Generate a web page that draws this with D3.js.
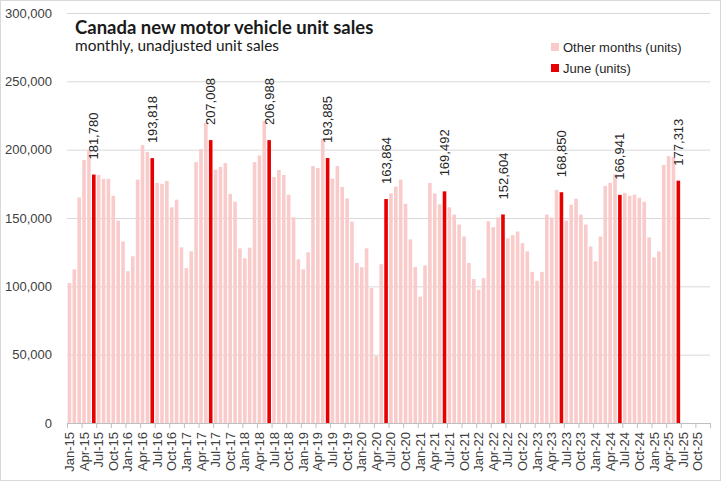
<!DOCTYPE html>
<html>
<head>
<meta charset="utf-8">
<script src="https://cdn.jsdelivr.net/npm/d3@7"></script>
<style>
  body { margin: 0; background: #fff; }
  svg { display: block; font-family: "Liberation Sans", Arial, sans-serif; }
  .tick text { fill: #404040; }
</style>
</head>
<body>
<svg width="721" height="481"></svg>
<script>
// months on the axis run Jan-15 .. Dec-25, data stops at Jun-25
const monthNames = ['Jan', 'Feb', 'Mar', 'Apr', 'May', 'Jun', 'Jul', 'Aug', 'Sep', 'Oct', 'Nov', 'Dec'];
const years = ['15', '16', '17', '18', '19', '20', '21', '22', '23', '24', '25'];

// unit sales (June values are the labelled ones)
const sales = [
  102400, 112500, 165000, 192400, 199500, 181780, 181500, 178600, 178600, 166300, 148100, 132900,
  111100, 122000, 178100, 203300, 198400, 193818, 175700, 175000, 177100, 157800, 163400, 128500,
  113300, 125600, 190900, 200400, 219700, 207008, 185400, 187300, 190200, 167700, 161900, 127800,
  120500, 128300, 190900, 195800, 221000, 206988, 180000, 185100, 181500, 167000, 150500, 119800,
  112500, 124900, 188000, 186600, 207900, 193885, 178800, 188000, 172800, 164300, 147400, 117100,
  114000, 127800, 98700, 48900, 116200, 163864, 168000, 173000, 178100, 160400, 134300, 114200,
  92400, 115400, 175700, 168000, 160000, 169492, 157800, 152500, 145200, 136500, 117100, 105300,
  97500, 106000, 147600, 143300, 150500, 152604, 135000, 137500, 140100, 131600, 125600, 110600,
  104100, 110600, 152500, 150300, 170600, 168850, 148100, 159700, 164100, 152500, 145200, 129200,
  118300, 136500, 173500, 175700, 182000, 166941, 168400, 166300, 167000, 164800, 161900, 135800,
  121200, 125600, 188800, 195300, 194600, 177313
];

const yTicks = [0, 50000, 100000, 150000, 200000, 250000, 300000];
const legendItems = ['Other months (units)', 'June (units)'];

const colorOther = '#f9cbcb';
const colorJune = '#e60000';

// build category list
const months = [];
years.forEach(y => monthNames.forEach(m => months.push(m + '-' + y)));

const data = sales.map((v, i) => ({ month: months[i], value: v, june: months[i].startsWith('Jun') }));

const svg = d3.select('svg');

// chart border
svg.append('rect')
  .attr('x', 0.5).attr('y', 0.5)
  .attr('width', 720).attr('height', 480)
  .attr('fill', '#fff')
  .attr('stroke', '#d9d9d9');

const plotL = 67, plotR = 710, plotT = 13, plotB = 423;

const x = d3.scaleBand()
  .domain(months)
  .range([plotL, plotR])
  .paddingInner(0.26)
  .paddingOuter(0.13);

const xEdges = d3.scaleLinear()
  .domain([0, months.length])
  .range([plotL, plotR]);

const y = d3.scaleLinear()
  .domain([0, 300000])
  .range([plotB, plotT]);

// gridlines + y labels
const axisY = d3.axisLeft(y)
  .tickValues(yTicks)
  .tickSize(-(plotR - plotL))
  .tickPadding(15)
  .tickFormat(d3.format(','));

svg.append('g')
  .attr('transform', `translate(${plotL}, 0)`)
  .call(axisY)
  .call(g => g.select('.domain').remove())
  .call(g => g.selectAll('.tick line').attr('stroke', '#d9d9d9'))
  .call(g => g.selectAll('.tick text').attr('font-size', 13));

// bars
svg.append('g')
  .selectAll('rect')
  .data(data)
  .join('rect')
  .attr('x', d => x(d.month))
  .attr('width', x.bandwidth())
  .attr('y', d => y(d.value))
  .attr('height', d => y(0) - y(d.value))
  .attr('fill', d => d.june ? colorJune : colorOther);

// june labels
svg.append('g')
  .selectAll('text')
  .data(data.filter(d => d.june))
  .join('text')
  .attr('transform', d => `translate(${x(d.month) + x.bandwidth() / 2}, ${y(d.value) - 15}) rotate(-90)`)
  .attr('dy', '0.35em')
  .attr('font-size', 13)
  .attr('fill', '#262626')
  .text(d => d3.format(',')(d.value));

// x axis line + tick marks every 3 months on the boundaries
const axisTicks = d3.axisBottom(xEdges)
  .tickValues(d3.range(0, months.length + 1, 3))
  .tickSize(5)
  .tickFormat('');

svg.append('g')
  .attr('transform', `translate(0, ${plotB})`)
  .call(axisTicks)
  .call(g => g.select('.domain').attr('stroke', '#bfbfbf'))
  .call(g => g.selectAll('.tick line').attr('stroke', '#bfbfbf'));

// x labels every 3 months
const axisX = d3.axisBottom(x)
  .tickValues(months.filter((m, i) => i % 3 === 0))
  .tickSize(0)
  .tickPadding(0);

svg.append('g')
  .attr('transform', `translate(0, ${plotB})`)
  .call(axisX)
  .call(g => g.select('.domain').remove())
  .call(g => g.selectAll('.tick text')
    .attr('font-size', 13)
    .attr('transform', 'rotate(-90)')
    .attr('text-anchor', 'end')
    .attr('x', -9)
    .attr('y', 0)
    .attr('dy', '0.35em'));

// title
svg.append('text')
  .attr('x', 75).attr('y', 34)
  .attr('font-family', 'Lato, sans-serif')
  .attr('font-weight', 'bold')
  .attr('font-size', 18.5)
  .attr('fill', '#1a1a1a')
  .text('Canada new motor vehicle unit sales');

svg.append('text')
  .attr('x', 75).attr('y', 51)
  .attr('font-family', 'Lato, sans-serif')
  .attr('font-size', 15.4)
  .attr('fill', '#1a1a1a')
  .text('monthly, unadjusted unit sales');

// legend
const legend = svg.append('g')
  .selectAll('g')
  .data(legendItems)
  .join('g')
  .attr('transform', (d, i) => `translate(551, ${43 + i * 21})`);

legend.append('rect')
  .attr('width', 8).attr('height', 8)
  .attr('fill', (d, i) => i === 0 ? colorOther : colorJune);

legend.append('text')
  .attr('x', 12).attr('y', 9)
  .attr('font-size', 13)
  .attr('fill', '#262626')
  .text(d => d);
</script>
</body>
</html>
